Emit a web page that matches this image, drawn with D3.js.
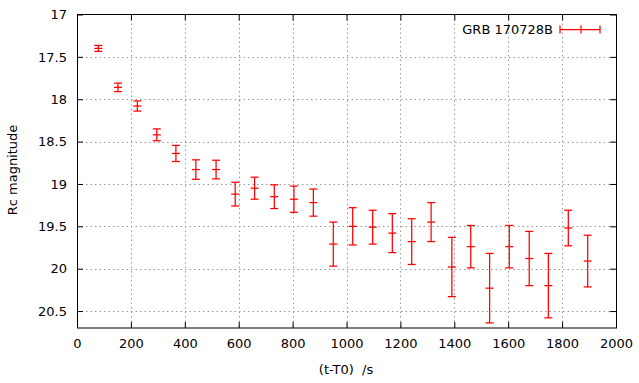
<!DOCTYPE html>
<html><head><meta charset="utf-8">
<script src="https://cdn.jsdelivr.net/npm/d3@7"></script>
<style>body{margin:0;background:#fff}svg{display:block;font-family:"DejaVu Sans",sans-serif}</style>
</head><body>
<svg id="c" width="639" height="383"></svg>
<script>
const times = [79,152,224,296,367,441,516,587,659,732,805,877,951,1023,1097,1170,1242,1314,1391,1461,1531,1604,1678,1749,1823,1895];
const mags  = [17.40,17.86,18.08,18.42,18.64,18.83,18.83,19.12,19.05,19.15,19.18,19.22,19.71,19.50,19.51,19.58,19.68,19.45,19.98,19.74,20.23,19.74,19.88,20.20,19.52,19.91];
const errs  = [0.035,0.05,0.06,0.07,0.095,0.115,0.11,0.14,0.13,0.14,0.155,0.16,0.26,0.22,0.20,0.23,0.27,0.23,0.35,0.25,0.41,0.25,0.32,0.38,0.21,0.305];
const xTicks = [0,200,400,600,800,1000,1200,1400,1600,1800,2000];
const yTicks = [17,17.5,18,18.5,19,19.5,20,20.5];
const seriesName = "GRB 170728B";
const xTitle = "(t-T0)  /s", yTitle = "Rc magnitude";

const L=77, R=616, T=14.5, B=328;
const FS = 13;
const svg = d3.select("#c");
const x = d3.scaleLinear().domain([0,2000]).range([L,R]);
const y = d3.scaleLinear().domain([17,20.7]).range([T,B]);
const red = "#ff0000";

// grid
const g = svg.append("g").attr("stroke","#999").attr("stroke-width",1).attr("stroke-dasharray","1.5,3");
g.selectAll(".vx").data(xTicks.filter(d=>d>0&&d<2000)).join("line")
  .attr("x1",d=>Math.round(x(d))+0.5).attr("x2",d=>Math.round(x(d))+0.5).attr("y1",T).attr("y2",B);
g.selectAll(".hy").data(yTicks.filter(d=>d>17)).join("line")
  .attr("y1",d=>Math.round(y(d))+0.5).attr("y2",d=>Math.round(y(d))+0.5).attr("x1",L).attr("x2",R);

// axes with inward ticks
const tk = 6;
const axB = svg.append("g").attr("transform",`translate(0,${B})`).call(d3.axisBottom(x).tickValues(xTicks).tickSize(-tk).tickPadding(12).tickFormat(d3.format("d")));
const axT = svg.append("g").attr("transform",`translate(0,${T})`).call(d3.axisTop(x).tickValues(xTicks).tickSize(-tk).tickFormat(""));
const axL = svg.append("g").attr("transform",`translate(${L},0)`).call(d3.axisLeft(y).tickValues(yTicks).tickSize(-tk).tickPadding(10).tickFormat(d=>String(d)));
const axRt = svg.append("g").attr("transform",`translate(${R},0)`).call(d3.axisRight(y).tickValues(yTicks).tickSize(-tk).tickFormat(""));
[axB,axT,axL,axRt].forEach(a=>{a.select(".domain").remove();a.selectAll("line").attr("stroke","#000");a.selectAll("text").attr("font-size",FS).attr("fill","#000").attr("font-family","DejaVu Sans");});
axB.selectAll("text").attr("dy","0.6em");
svg.append("rect").attr("x",L+0.5).attr("y",T).attr("width",R-L).attr("height",B-T).attr("fill","none").attr("stroke","#000").attr("stroke-width",1);

// error bars
const cap = 4;
const eb = svg.append("g").attr("stroke",red).attr("stroke-width",1.25).attr("fill","none");
const pts = times.map((t,i)=>({t,m:mags[i],e:errs[i]}));
const grp = eb.selectAll("g").data(pts).join("g");
grp.append("line").attr("x1",d=>x(d.t)).attr("x2",d=>x(d.t)).attr("y1",d=>y(d.m-d.e)).attr("y2",d=>y(d.m+d.e));
grp.append("line").attr("x1",d=>x(d.t)-cap).attr("x2",d=>x(d.t)+cap).attr("y1",d=>y(d.m-d.e)).attr("y2",d=>y(d.m-d.e));
grp.append("line").attr("x1",d=>x(d.t)-cap).attr("x2",d=>x(d.t)+cap).attr("y1",d=>y(d.m+d.e)).attr("y2",d=>y(d.m+d.e));
grp.append("line").attr("x1",d=>x(d.t)-cap).attr("x2",d=>x(d.t)+cap).attr("y1",d=>y(d.m)).attr("y2",d=>y(d.m));

// legend
const lg = svg.append("g");
lg.append("text").attr("x",553).attr("y",30).attr("text-anchor","end").attr("dominant-baseline","middle").attr("font-size",FS).text(seriesName);
const lgl = lg.append("g").attr("stroke",red).attr("stroke-width",1.25);
lgl.append("line").attr("x1",560).attr("x2",600).attr("y1",29.5).attr("y2",29.5);
[560,581,600].forEach(px=>lgl.append("line").attr("x1",px).attr("x2",px).attr("y1",25.5).attr("y2",33.5));

// titles
svg.append("text").attr("x",346).attr("y",370).attr("text-anchor","middle").attr("dominant-baseline","middle").attr("font-size",FS).text(xTitle).attr("xml:space","preserve").style("white-space","pre");
svg.append("text").attr("transform","translate(13,170) rotate(-90)").attr("text-anchor","middle").attr("dominant-baseline","middle").attr("font-size",FS).text(yTitle);
</script>
</body></html>
